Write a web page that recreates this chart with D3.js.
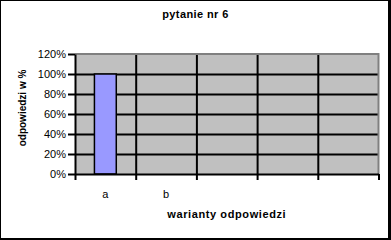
<!DOCTYPE html>
<html>
<head>
<meta charset="utf-8">
<script src="https://cdn.jsdelivr.net/npm/d3@7"></script>
<style>
  body { margin: 0; background: #fff; }
  svg { display: block; font-family: "Liberation Sans", Arial, sans-serif; }
  .axis path, .axis line { stroke: #000; stroke-width: 2; }
  .grid line { stroke: #000; stroke-width: 2; }
  .grid path { display: none; }
</style>
</head>
<body>
<div id="chart"></div>
<script>
// dane wykresu
var categories = ["a", "b", "c", "d", "e"];
var tickLabels = ["a", "b", "", "", ""];
var values = [100, 0];
var yTicks = [0, 20, 40, 60, 80, 100, 120];

var outerWidth = 391, outerHeight = 240;
var margin = { top: 54, right: 12.5, bottom: 66, left: 75 },
	width = outerWidth - margin.left - margin.right,
	height = outerHeight - margin.top - margin.bottom;

var svg = d3.select("#chart").append("svg")
	.attr("width", outerWidth)
	.attr("height", outerHeight);

// ramka z cieniem
svg.append("rect").attr("x", 0).attr("y", 0).attr("width", 391).attr("height", 240).attr("fill", "#000");
svg.append("rect").attr("x", 1).attr("y", 1).attr("width", 387).attr("height", 237).attr("fill", "#fff");

var g = svg.append("g").attr("transform", "translate(" + margin.left + "," + margin.top + ")");

var x = d3.scaleBand()
	.domain(categories)
	.range([0, width])
	.paddingInner(0.64)
	.paddingOuter(0.32);
var xEdges = d3.scaleLinear()
	.domain([0, categories.length])
	.range([0, width]);
var y = d3.scaleLinear()
	.domain([0, 120])
	.range([height, 0]);

// tlo
g.append("rect")
	.attr("width", width)
	.attr("height", height)
	.attr("fill", "#c0c0c0");

// siatka pozioma
g.append("g")
	.attr("class", "grid")
	.call(d3.axisLeft(y).tickValues(yTicks.slice(1, -1)).tickSize(-width).tickFormat(""));

// siatka pionowa
g.append("g")
	.attr("class", "grid")
	.call(d3.axisTop(xEdges).tickValues(d3.range(1, categories.length)).tickSize(-height).tickFormat(""));

// obramowanie gora / prawo
g.append("path")
	.attr("d", "M0,0H" + width + "V" + height)
	.attr("fill", "none")
	.attr("stroke", "#808080")
	.attr("stroke-width", 2);

// slupki
g.append("g").selectAll("rect.bar").data(values)
	.enter()
	.append("rect")
	.attr("class", "bar")
	.attr("x", function (d, i) { return x(categories[i]); })
	.attr("y", function (d) { return y(d); })
	.attr("width", x.bandwidth())
	.attr("height", function (d) { return height - y(d); })
	.attr("fill", "#9999ff")
	.attr("stroke", "#000")
	.attr("stroke-width", 1.5);

// os Y
var yAxis = g.append("g")
	.attr("class", "axis")
	.call(d3.axisLeft(y).tickValues(yTicks).tickSize(7).tickSizeOuter(0).tickPadding(2).tickFormat(function (d) { return d + "%"; }));
yAxis.selectAll("text").style("font-size", "11px").attr("fill", "#000");

// os X - kreski na granicach kategorii
g.append("g")
	.attr("class", "axis")
	.attr("transform", "translate(0," + height + ")")
	.call(d3.axisBottom(xEdges).tickValues(d3.range(0, categories.length + 1)).tickSize(6).tickSizeOuter(0).tickFormat(""));

// os X - etykiety
var xLab = g.append("g")
	.attr("transform", "translate(0," + height + ")")
	.call(d3.axisBottom(x).tickSize(0).tickPadding(16).tickFormat(function (d, i) { return tickLabels[i]; }));
xLab.select(".domain").remove();
xLab.selectAll("text").style("font-size", "11px").attr("fill", "#000");

// tytuly
svg.append("text")
	.attr("x", 195.5)
	.attr("y", 18)
	.attr("text-anchor", "middle")
	.style("font-size", "11px")
	.style("font-weight", "bold")
	.style("letter-spacing", "0.4px")
	.text("pytanie nr 6");

svg.append("text")
	.attr("x", margin.left + width / 2)
	.attr("y", 218)
	.attr("text-anchor", "middle")
	.style("font-size", "11px")
	.style("font-weight", "bold")
	.style("letter-spacing", "0.6px")
	.text("warianty odpowiedzi");

svg.append("text")
	.attr("transform", "translate(26,108) rotate(-90)")
	.attr("text-anchor", "middle")
	.style("font-size", "10px")
	.style("font-weight", "bold")
	.text("odpowiedzi w %");
</script>
</body>
</html>
